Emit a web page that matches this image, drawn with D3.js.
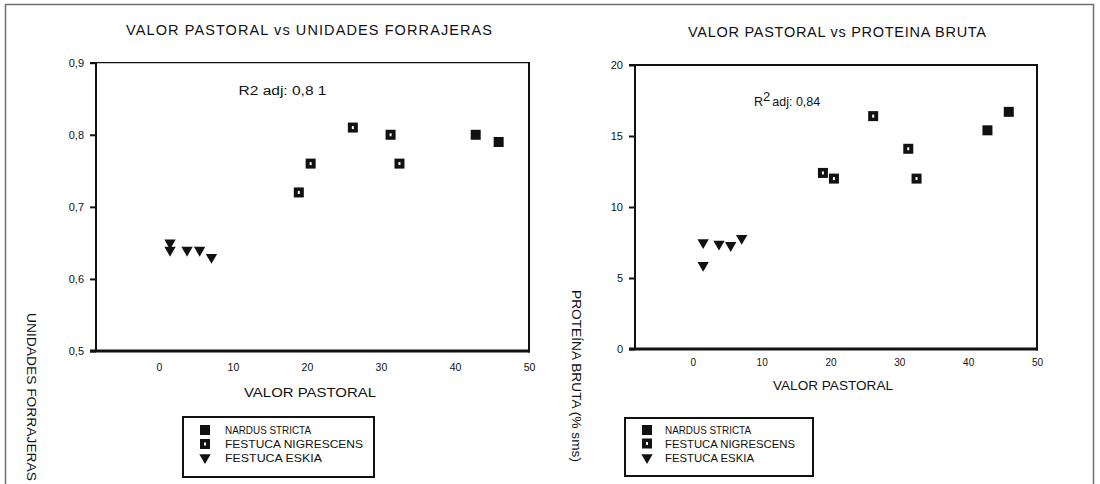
<!DOCTYPE html>
<html>
<head>
<meta charset="utf-8">
<script src="https://cdn.jsdelivr.net/npm/d3@7"></script>
<style>
  html, body { margin: 0; padding: 0; background: #fff; }
  svg { display: block; font-family: "Liberation Sans", Arial, sans-serif; }
</style>
</head>
<body>
<svg id="chart" width="1100" height="484"></svg>
<script>
// Valor pastoral of each sample, by species (shared by both panels)
const vpNardus = [42.8, 45.9];
const vpNigrescens = [18.9, 20.5, 26.2, 31.3, 32.5];
const vpEskia = [1.5, 1.5, 3.8, 5.5, 7.1];

// Unidades forrajeras
const ufNardus = [0.80, 0.79];
const ufNigrescens = [0.72, 0.76, 0.81, 0.80, 0.76];
const ufEskia = [0.65, 0.64, 0.64, 0.64, 0.63];

// Proteína bruta (% sms)
const pbNardus = [15.4, 16.7];
const pbNigrescens = [12.4, 12.0, 16.4, 14.1, 12.0];
const pbEskia = [7.5, 5.9, 7.4, 7.3, 7.8];

const speciesNames = ["NARDUS STRICTA", "FESTUCA NIGRESCENS", "FESTUCA ESKIA"];
const speciesMarks = ["solid", "hollow", "triangle"];

const vpTicks = [0, 10, 20, 30, 40, 50];
const ufTicks = [0.5, 0.6, 0.7, 0.8, 0.9];
const ufTickLabels = ["0,5", "0,6", "0,7", "0,8", "0,9"];
const pbTicks = [0, 5, 10, 15, 20];
const pbTickLabels = ["0", "5", "10", "15", "20"];

const svg = d3.select("#chart");
const ink = "#111";

// page frame
svg.append("rect")
  .attr("x", 5.5).attr("y", 4.5).attr("width", 1088).attr("height", 500)
  .attr("fill", "none").attr("stroke", "#707070").attr("stroke-width", 1.5);

function drawMark(g, kind, cx, cy) {
  if (kind === "triangle") {
    g.append("path")
      .attr("d", d3.symbol(d3.symbolTriangle, 56)())
      .attr("transform", `translate(${cx},${cy}) rotate(180)`)
      .attr("fill", ink);
  } else {
    g.append("rect")
      .attr("x", cx - 5).attr("y", cy - 5)
      .attr("width", 10).attr("height", 10)
      .attr("fill", ink);
    if (kind === "hollow") {
      g.append("rect")
        .attr("x", cx - 1).attr("y", cy - 1.5)
        .attr("width", 2).attr("height", 3)
        .attr("fill", "#fff");
    }
  }
}

function fitText(g, str, x, y, opts) {
  const t = g.append("text")
    .attr("x", x).attr("y", y)
    .attr("font-size", opts.size)
    .attr("fill", ink)
    .attr("text-anchor", opts.anchor || "start")
    .text(str);
  if (opts.length) t.attr("textLength", opts.length).attr("lengthAdjust", opts.adjust || "spacingAndGlyphs");
  if (opts.transform) t.attr("transform", opts.transform);
  return t;
}

function drawPanel(p) {
  const g = svg.append("g");
  const x = d3.scaleLinear().domain(p.xDomain).range(p.xRange);
  const y = d3.scaleLinear().domain(p.yDomain).range(p.yRange);
  const [x0, x1] = p.xRange;
  const [y0, y1] = p.yRange;

  // y axis with short outward ticks
  const yAxis = d3.axisLeft(y)
    .tickValues(p.yTicks)
    .tickFormat((d, i) => p.yTickLabels[i])
    .tickSizeInner(6).tickSizeOuter(0).tickPadding(6);
  const ya = g.append("g").attr("transform", `translate(${x0},0)`).call(yAxis);
  ya.select(".domain").remove();
  ya.selectAll(".tick line").attr("stroke", ink).attr("stroke-width", 2);
  ya.selectAll(".tick text").attr("font-size", p.yTickSize).attr("fill", ink)
    .attr("font-family", "Liberation Sans, Arial, sans-serif");

  // x axis: labels only
  const xAxis = d3.axisBottom(x)
    .tickValues(vpTicks)
    .tickFormat(d3.format("d"))
    .tickSizeInner(0).tickSizeOuter(0).tickPadding(p.xTickPad);
  const xa = g.append("g").attr("transform", `translate(0,${y0})`).call(xAxis);
  xa.select(".domain").remove();
  xa.selectAll(".tick line").remove();
  xa.selectAll(".tick text").attr("font-size", p.xTickSize).attr("fill", ink)
    .attr("font-family", "Liberation Sans, Arial, sans-serif");

  // plot frame
  g.append("line").attr("x1", x0 - 6).attr("x2", x1 + 1).attr("y1", y1).attr("y2", y1)
    .attr("stroke", ink).attr("stroke-width", p.topWidth);
  g.append("line").attr("x1", x0 - 6).attr("x2", x1 + 1).attr("y1", y0).attr("y2", y0)
    .attr("stroke", ink).attr("stroke-width", 3);
  g.append("line").attr("x1", x0).attr("x2", x0).attr("y1", y1).attr("y2", y0)
    .attr("stroke", ink).attr("stroke-width", 2);
  g.append("line").attr("x1", x1).attr("x2", x1).attr("y1", y1).attr("y2", y0 + 1.5)
    .attr("stroke", ink).attr("stroke-width", 2);

  // points
  const pts = g.append("g");
  p.series.forEach(s => {
    s.xs.forEach((v, i) => drawMark(pts, s.mark, x(v), y(s.ys[i])));
  });

  // titles
  fitText(g, p.title, p.titlePos[0], p.titlePos[1], { size: 14.5, anchor: "middle", length: p.titleLen, adjust: "spacing" });
  fitText(g, "VALOR PASTORAL", p.xTitlePos[0], p.xTitlePos[1], { size: 13.5, anchor: "middle", length: p.xTitleLen });
  fitText(g, p.yTitle, 0, 0, { size: 13, length: p.yTitleLen,
    transform: `translate(${p.yTitlePos[0]},${p.yTitlePos[1]}) rotate(90)` });

  // fit statistic
  p.drawR2(g);

  // legend
  const L = p.legend;
  g.append("rect").attr("x", L.x).attr("y", L.y).attr("width", L.w).attr("height", L.h)
    .attr("fill", "#fff").attr("stroke", ink).attr("stroke-width", 2);
  speciesNames.forEach((name, i) => {
    const cy = L.rowY[i];
    drawMark(g, speciesMarks[i], L.symX, cy);
    fitText(g, name, L.textX, cy + 4, { size: 10.5, length: L.lens[i] });
  });
}

drawPanel({
  xDomain: [-8.5, 50], xRange: [96, 529],
  yDomain: [0.5, 0.9], yRange: [351, 62.7],
  yTicks: ufTicks, yTickLabels: ufTickLabels,
  yTickSize: 11, xTickSize: 10.5, xTickPad: 12.5, topWidth: 1.3,
  series: [
    { mark: "solid", xs: vpNardus, ys: ufNardus },
    { mark: "hollow", xs: vpNigrescens, ys: ufNigrescens },
    { mark: "triangle", xs: vpEskia, ys: ufEskia }
  ],
  title: "VALOR PASTORAL vs UNIDADES FORRAJERAS", titlePos: [309, 35], titleLen: 366,
  xTitlePos: [310, 397], xTitleLen: 132,
  yTitle: "UNIDADES FORRAJERAS", yTitlePos: [27, 313], yTitleLen: 168,
  drawR2: g => fitText(g, "R2 adj: 0,8 1", 238.5, 94.5, { size: 12.5, length: 88 }),
  legend: { x: 183, y: 417, w: 191, h: 60, symX: 205, textX: 225, rowY: [430, 444, 457.5], lens: [86, 138, 97] }
});

drawPanel({
  xDomain: [-8.4, 50], xRange: [635, 1037],
  yDomain: [0, 20], yRange: [349, 65],
  yTicks: pbTicks, yTickLabels: pbTickLabels,
  yTickSize: 11, xTickSize: 10, xTickPad: 10, topWidth: 2.2,
  series: [
    { mark: "solid", xs: vpNardus, ys: pbNardus },
    { mark: "hollow", xs: vpNigrescens, ys: pbNigrescens },
    { mark: "triangle", xs: vpEskia, ys: pbEskia }
  ],
  title: "VALOR PASTORAL vs PROTEINA BRUTA", titlePos: [837, 37], titleLen: 298,
  xTitlePos: [833, 390], xTitleLen: 120,
  yTitle: "PROTEÍNA BRUTA (% sms)", yTitlePos: [572, 290], yTitleLen: 172,
  drawR2: g => {
    const t = g.append("text").attr("x", 754).attr("y", 106).attr("font-size", 12.5).attr("fill", ink);
    t.append("tspan").text("R");
    t.append("tspan").attr("dy", -5).attr("font-size", 13).text("2");
    t.append("tspan").attr("dy", 5).attr("dx", 2).text("adj: 0,84");
  },
  legend: { x: 625, y: 418, w: 188, h: 58, symX: 647, textX: 665, rowY: [430, 443.5, 457.5], lens: [86, 130, 89] }
});
</script>
</body>
</html>
